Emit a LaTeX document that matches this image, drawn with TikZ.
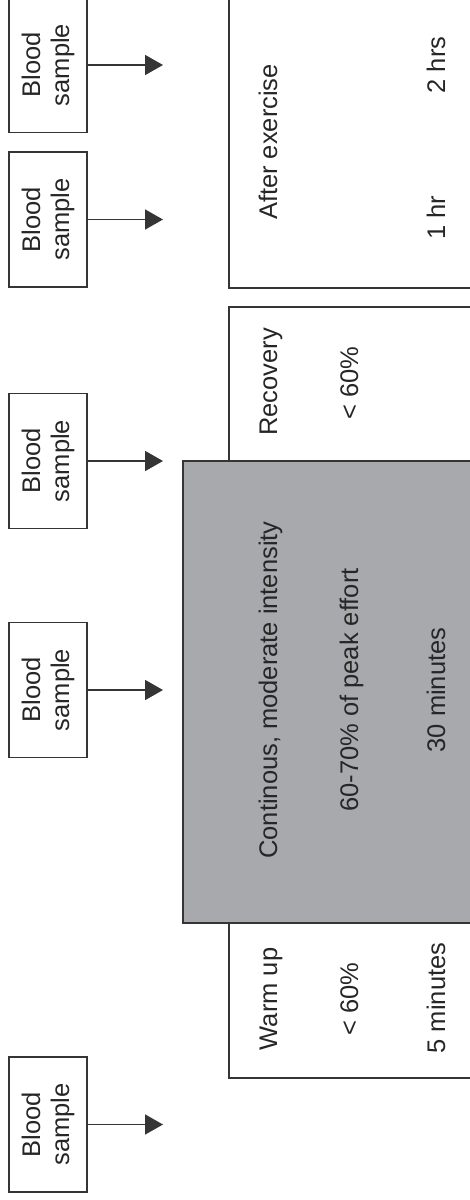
\documentclass[tikz,border=0pt]{standalone}
\usepackage{fontspec}
\setmainfont{Liberation Sans}
\usetikzlibrary{arrows.meta}
\definecolor{linegray}{HTML}{353535}
\definecolor{textgray}{HTML}{262626}
\definecolor{phasegray}{HTML}{A8A9AC}
\begin{document}
\begin{tikzpicture}[x=1pt,y=-1pt,
  lbl/.style={font=\fontsize{25.5}{30}\selectfont, text=textgray, rotate=90, anchor=base, inner sep=0pt},
  samplebox/.style={draw=linegray, line width=1.9pt, rotate=90, minimum width=135pt,
    minimum height=78pt, align=center, inner sep=0pt, text=textgray,
    font=\fontsize{25.5}{29}\selectfont},
  phase/.style={draw=linegray, line width=1.9pt, inner sep=0pt, anchor=north west},
  arr/.style={draw=linegray, line width=1.7pt, -{Triangle[length=18pt,width=20pt]}}]
\useasboundingbox (0,0) rectangle (470,1200);
\clip (0,0) rectangle (470,1200);

% phases of the session
\node[phase, minimum width=252pt, minimum height=307pt] (after) at (228,-20) {};
\node[phase, minimum width=252pt, minimum height=154pt] (recovery) at (228,306) {};
\node[phase, minimum width=252pt, minimum height=155pt] (warmup) at (228,922) {};
\node[phase, fill=phasegray, minimum width=298pt, minimum height=462pt] (main) at (182,460) {};

% phase labels
\node[lbl] (aftertitle) at (277,142) {After exercise};
\node[lbl] (onehr) at (445,218) {1 hr};
\node[lbl] (twohr) at (445,65) {2 hrs};
\node[lbl] (rectitle) at (277,382) {Recovery};
\node[lbl] (recint) at (358,383) {< 60\%};
\node[lbl] (maintitle) at (277,690) {Continous, moderate intensity};
\node[lbl] (mainint) at (358,690) {60-70\% of peak effort};
\node[lbl] (maintime) at (445,690) {30 minutes};
\node[lbl] (wutitle) at (277,999) {Warm up};
\node[lbl] (wuint) at (358,999) {< 60\%};
\node[lbl] (wutime) at (445,998) {5 minutes};

% blood sampling points
\node[samplebox] (s1) at (48,65) {Blood\\sample};
\node[samplebox] (s2) at (48,219.5) {Blood\\sample};
\node[samplebox] (s3) at (48,461) {Blood\\sample};
\node[samplebox] (s4) at (48,690) {Blood\\sample};
\node[samplebox] (s5) at (48,1124.5) {Blood\\sample};

\coordinate (t1) at (163,65);
\coordinate (t2) at (163,219.5);
\coordinate (t3) at (163,461);
\coordinate (t4) at (163,690);
\coordinate (t5) at (163,1124.5);

\draw[arr] (s1.south) -- (t1);
\draw[arr] (s2.south) -- (t2);
\draw[arr] (s3.south) -- (t3);
\draw[arr] (s4.south) -- (t4);
\draw[arr] (s5.south) -- (t5);
\end{tikzpicture}
\end{document}
